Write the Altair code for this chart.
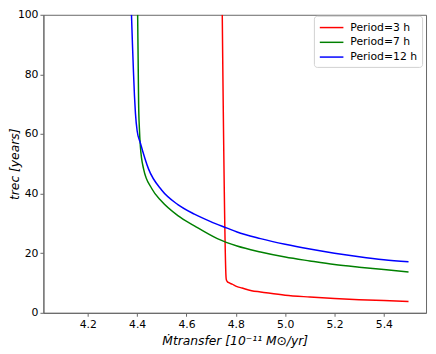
import altair as alt
import pandas as pd

red_x = [4.745, 4.761, 4.765, 4.772, 4.785, 4.805, 4.825, 4.864, 4.9, 5.0, 5.1, 5.2, 5.3, 5.4, 5.5]
red_y = [100, 11.3, 10.5, 10.1, 9.6, 8.8, 8.3, 7.4, 7.0, 5.9, 5.3, 4.8, 4.4, 4.1, 3.8]

green_x = [4.402, 4.403, 4.404, 4.405, 4.406, 4.409, 4.413, 4.426, 4.459, 4.499, 4.565, 4.632,
           4.725, 4.805, 4.9, 5.0, 5.1, 5.2, 5.3, 5.4, 5.5]
green_y = [100, 92, 85, 77, 70, 62, 55.9, 48.3, 41.7, 37.4, 32.6, 29.2,
           24.9, 22.4, 20.4, 18.7, 17.4, 16.2, 15.3, 14.5, 13.7]

blue_x = [4.377, 4.381, 4.385, 4.389, 4.393, 4.400, 4.413, 4.446, 4.499, 4.565, 4.632, 4.698,
          4.765, 4.805, 4.9, 5.0, 5.1, 5.2, 5.3, 5.4, 5.5]
blue_y = [100, 90, 81, 73, 67, 61, 57, 48.3, 41.2, 36.3, 33.1, 30.6,
          28.4, 27.1, 24.9, 23.0, 21.4, 20.0, 18.8, 17.8, 17.1]

labels = ["Period=3 h", "Period=7 h", "Period=12 h"]
colors = ["#ff0000", "#008000", "#0000ff"]
x_ticks = [4.2, 4.4, 4.6, 4.8, 5.0, 5.2, 5.4]
y_ticks = [0, 20, 40, 60, 80, 100]

rows = []
for lab, xs, ys in zip(labels, [red_x, green_x, blue_x], [red_y, green_y, blue_y]):
    for i, (a, b) in enumerate(zip(xs, ys)):
        rows.append({"series": lab, "x": a, "y": b, "order": i})
df = pd.DataFrame(rows)

chart = alt.Chart(df).mark_line(strokeWidth=1.5, clip=True, interpolate="monotone").encode(
    x=alt.X("x:Q", scale=alt.Scale(domain=[4.02, 5.571], nice=False, zero=False),
            axis=alt.Axis(values=x_ticks, format=".1f",
                          title="Ṁtransfer [10⁻¹¹ M⊙/yr]", titlePadding=6)),
    y=alt.Y("y:Q", scale=alt.Scale(domain=[0, 100], nice=False),
            axis=alt.Axis(values=y_ticks, title="trec [years]",
                          titleX=-25.5, titleBaseline="alphabetic")),
    color=alt.Color("series:N", sort=labels,
                    scale=alt.Scale(domain=labels, range=colors),
                    legend=alt.Legend(title=None, orient="none", legendX=275, legendY=1,
                                      symbolType="M-1,0H3",
                                      symbolStrokeWidth=1.5, symbolSize=144,
                                      symbolFillColor="transparent",
                                      fillColor="white", strokeColor="#d0d0d0",
                                      cornerRadius=3, padding=5,
                                      labelFontSize=11, labelFont="DejaVu Sans",
                                      labelOffset=18, rowPadding=3)),
    order="order:Q",
).properties(
    width=389, height=303,
    autosize=alt.AutoSizeParams(type="none"),
    padding={"left": 36, "top": 4, "right": 2, "bottom": 40},
).configure_view(
    stroke="#666666", strokeWidth=1
).configure_axis(
    grid=False, domainColor="#666666", tickColor="#666666", tickSize=3.5,
    labelFont="DejaVu Sans", labelFontSize=11, labelColor="black",
    titleFont="DejaVu Sans", titleFontSize=12.5, titleFontWeight="normal",
    titleFontStyle="italic", titleColor="black", labelPadding=2
)

chart.save("out.html", embed_options={"renderer": "svg", "actions": False})
